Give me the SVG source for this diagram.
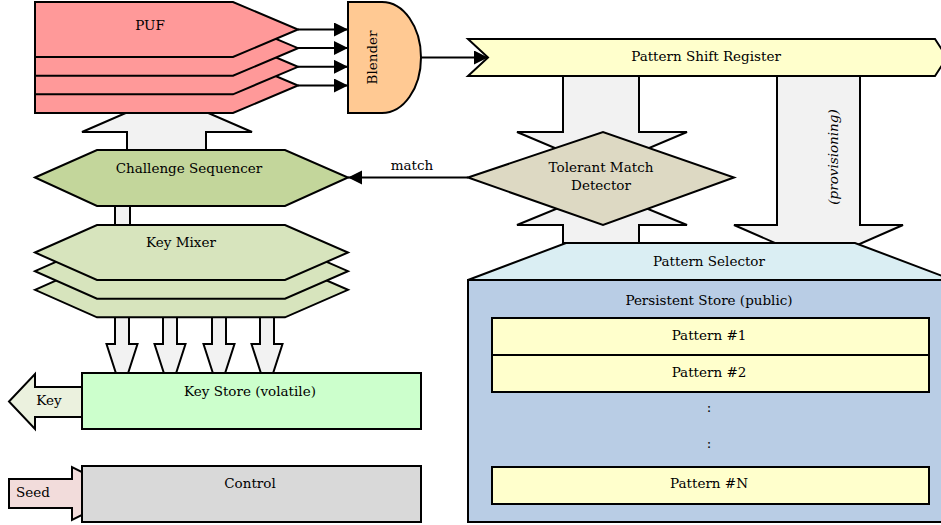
<svg xmlns="http://www.w3.org/2000/svg" width="941" height="525" viewBox="0 0 941 525">
<defs>
<marker id="ah" markerUnits="userSpaceOnUse" markerWidth="15" markerHeight="15" refX="14" refY="7" orient="auto">
<path d="M0,0 L14,7 L0,14 Z" fill="#000"/>
</marker>
<style>
.s{stroke:#000;stroke-width:2;stroke-linejoin:miter}
.g{fill:#F2F2F2}
.t{font-family:"DejaVu Serif","Liberation Serif",serif;font-size:13.5px;fill:#000;text-anchor:middle}
.ln{fill:none;stroke:#000;stroke-width:2}
.puf{fill:#FF9999}
.km{fill:#D7E4BD}
.pat{fill:#FFFFCC}
</style>
</defs>
<rect width="941" height="525" fill="#fff"/>

<g id="connectors">
<polygon class="s g" points="127,150 206,150 206,132 252,132 167,95 82,132 127,132"/>
<polygon class="s g" points="563,76 639,76 639,132 687,132 602,168 517,132 563,132"/>
<polygon class="s g" points="563,243 639,243 639,225 687,225 602,190 517,225 563,225"/>
<polygon class="s g" points="777,76 860,76 860,225 903,225 818.5,262 734,225 777,225"/>
<rect class="s g" x="115" y="204" width="15" height="24"/>
<polygon class="s g" points="115,300 129,300 129,344 137.5,344 122,392 106.5,344 115,344"/>
<polygon class="s g" points="163,300 177,300 177,344 185.5,344 170,392 154.5,344 163,344"/>
<polygon class="s g" points="212,300 226,300 226,344 234.5,344 219,392 203.5,344 212,344"/>
<polygon class="s g" points="260,300 274,300 274,344 282.5,344 267,392 251.5,344 260,344"/>
<line class="ln" x1="298" y1="29.5" x2="348" y2="29.5" marker-end="url(#ah)"/>
<line class="ln" x1="298" y1="48" x2="348" y2="48" marker-end="url(#ah)"/>
<line class="ln" x1="298" y1="66.8" x2="348" y2="66.8" marker-end="url(#ah)"/>
<line class="ln" x1="298" y1="85.5" x2="348" y2="85.5" marker-end="url(#ah)"/>
<line class="ln" x1="421" y1="57.5" x2="488" y2="57.5" marker-end="url(#ah)"/>
<line class="ln" x1="468" y1="177.5" x2="348" y2="177.5" marker-end="url(#ah)"/>
<text class="t" x="412" y="170">match</text>
</g>

<g id="puf">
<polygon class="s puf" points="35,58 233,58 298,85.5 233,113 35,113"/>
<polygon class="s puf" points="35,39.3 233,39.3 298,66.8 233,94.3 35,94.3"/>
<polygon class="s puf" points="35,20.7 233,20.7 298,48.2 233,75.7 35,75.7"/>
<polygon class="s puf" points="35,2 233,2 298,29.5 233,57 35,57"/>
<text class="t" x="150" y="30">PUF</text>
</g>

<g id="blender">
<path class="s" fill="#FFC993" d="M348,2 H382 A39,55.5 0 0 1 382,113 H348 Z"/>
<text class="t" transform="translate(377,57.5) rotate(-90)">Blender</text>
</g>

<g id="pattern-shift-register">
<polygon class="s" fill="#FFFFCC" points="468,39 935,39 947,57.5 935,76 468,76 488,57.5"/>
<text class="t" x="706" y="61">Pattern Shift Register</text>
</g>

<g id="tolerant-match-detector">
<polygon class="s" fill="#DDD9C3" points="468,177.5 603,132 734,177.5 603,225"/>
<text class="t" x="601" y="172">Tolerant Match</text>
<text class="t" x="601" y="190">Detector</text>
</g>

<text class="t" font-style="italic" transform="translate(838,157) rotate(-90)">(provisioning)</text>

<g id="persistent-store">
<rect class="s" fill="#B9CDE5" x="468" y="280" width="480" height="242"/>
<text class="t" x="709" y="305">Persistent Store (public)</text>
</g>

<g id="pattern-selector">
<polygon class="s" fill="#DAEEF3" points="566,243 855,243 953,280 468,280"/>
<text class="t" x="709" y="266">Pattern Selector</text>
</g>

<g id="pattern-1">
<rect class="s pat" x="492" y="318" width="437" height="37"/>
<text class="t" x="709" y="340">Pattern #1</text>
</g>
<g id="pattern-2">
<rect class="s pat" x="492" y="355" width="437" height="37"/>
<text class="t" x="709" y="377">Pattern #2</text>
</g>
<text class="t" x="709" y="412">:</text>
<text class="t" x="709" y="448">:</text>
<g id="pattern-n">
<rect class="s pat" x="492" y="467" width="437" height="37"/>
<text class="t" x="709" y="488">Pattern #N</text>
</g>

<g id="challenge-sequencer">
<polygon class="s" fill="#C3D69B" points="35,177.5 97,150 285,150 348,177.5 285,206 97,206"/>
<text class="t" x="189" y="173">Challenge Sequencer</text>
</g>

<g id="key-mixer">
<polygon class="s km" points="35,289.8 97,262.3 285,262.3 348,289.8 285,317.3 97,317.3"/>
<polygon class="s km" points="35,271.2 97,243.7 285,243.7 348,271.2 285,298.7 97,298.7"/>
<polygon class="s km" points="35,252.5 97,225 285,225 348,252.5 285,280 97,280"/>
<text class="t" x="181" y="247">Key Mixer</text>
</g>

<g id="key">
<polygon class="s" fill="#EBF1DE" points="82,387 35,387 35,374 9,401.5 35,429 35,417 82,417"/>
<text class="t" x="49" y="405">Key</text>
</g>

<g id="key-store">
<rect class="s" fill="#CCFFCC" x="82" y="373" width="339" height="56"/>
<text class="t" x="250" y="396">Key Store (volatile)</text>
</g>

<g id="seed">
<polygon class="s" fill="#F2DCDB" points="9,479 72,479 72,467 125,493.5 72,520 72,508 9,508"/>
<text class="t" x="33" y="497">Seed</text>
</g>

<g id="control">
<rect class="s" fill="#D9D9D9" x="82" y="466" width="339" height="56"/>
<text class="t" x="250" y="488">Control</text>
</g>
</svg>
